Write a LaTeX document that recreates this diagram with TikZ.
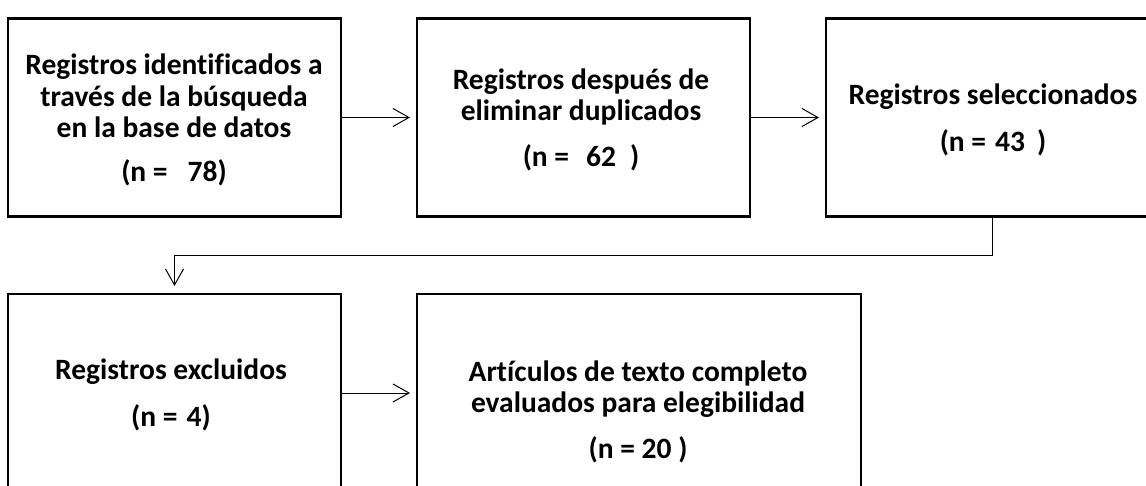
\documentclass[tikz,border=0pt]{standalone}
\usepackage{fontspec}
\setmainfont[Ligatures=NoCommon]{Carlito}
\usetikzlibrary{arrows.meta}
\begin{document}
\begin{tikzpicture}[x=1pt,y=1pt,
  box/.style={draw=black, line width=2.5pt, minimum height=198pt, inner sep=0pt, outer sep=0pt},
  txt/.style={font=\bfseries\fontsize{29.5}{31.5}\selectfont, align=center, inner sep=0pt},
  arr/.style={draw=black, line width=1pt, -{Straight Barb[length=16pt,width=18pt,line width=1pt]}, shorten >=7pt}]
\useasboundingbox (0,0) rectangle (1146,-486);
\clip (0,0) rectangle (1146,-486);
\fill[white] (0,0) rectangle (1146,-486);
% boxes
\node[box, minimum width=333pt] (b1) at (174.5,-117.5) {};
\node[box, minimum width=333pt] (b2) at (583.5,-117.5) {};
\node[box, minimum width=333pt] (b3) at (992.5,-117.5) {};
\node[box, minimum width=333pt] (b4) at (174.5,-393) {};
\node[box, minimum width=444pt] (b5) at (639,-393) {};
% texts
\node[txt] (t1) at (174,-96) {Registros identificados a\\ través de la búsqueda\\ en la base de datos};
\node[txt] (n1) at (174,-173) {(n =\ \ \ 78)};
\node[txt] (t2) at (581,-97) {Registros después de\\ eliminar duplicados};
\node[txt] (n2) at (581,-158) {(n =\hspace{17pt}62\hspace{14pt})};
\node[txt] (t3) at (993,-97) {Registros seleccionados};
\node[txt] (n3) at (993,-143) {(n =\hspace{9pt}43\hspace{12pt})};
\node[txt] (t4) at (171,-372) {Registros excluidos};
\node[txt] (n4) at (171,-418) {(n =\hspace{9pt}4)};
\node[txt] (t5) at (638,-389) {Artículos de texto completo\\ evaluados para elegibilidad};
\node[txt] (n5) at (638,-450) {(n = 20 )};
% connectors
\coordinate (m) at (174.5,-256);
\draw[arr] (b1.east) -- (b2.west);
\draw[arr] (b2.east) -- (b3.west);
\draw[arr, shorten >=8pt] (b3.south) |- (m) -- (b4.north);
\draw[arr] (b4.east) -- (b5.west);
\end{tikzpicture}
\end{document}
